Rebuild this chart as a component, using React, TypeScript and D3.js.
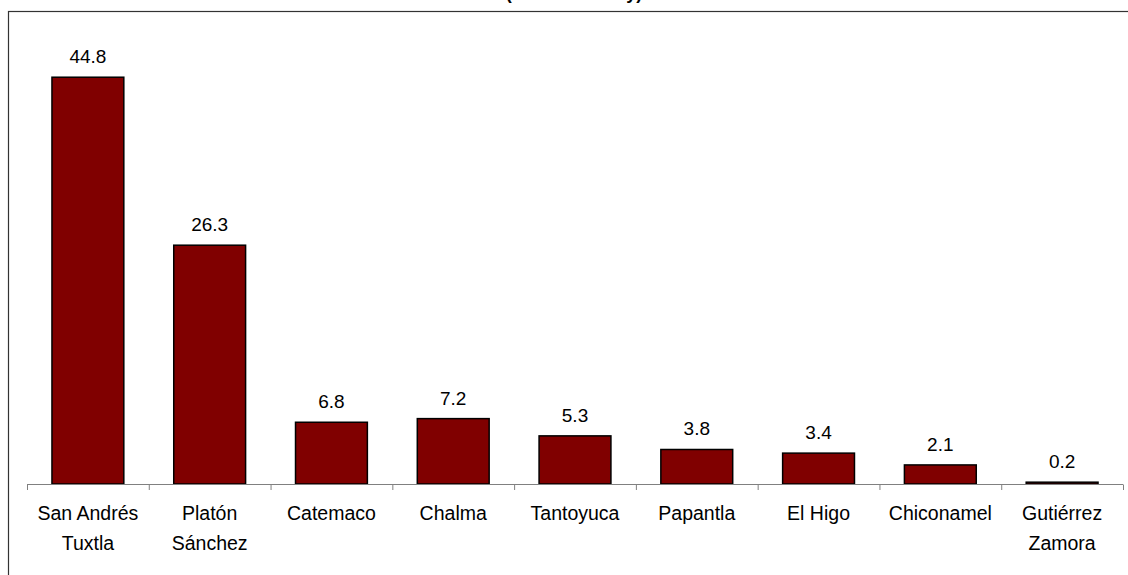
import React from "react";
import * as d3 from "d3";

const categories: string[][] = [
  ["San Andrés", "Tuxtla"],
  ["Platón", "Sánchez"],
  ["Catemaco"],
  ["Chalma"],
  ["Tantoyuca"],
  ["Papantla"],
  ["El Higo"],
  ["Chiconamel"],
  ["Gutiérrez", "Zamora"],
];
const values: number[] = [44.8, 26.3, 6.8, 7.2, 5.3, 3.8, 3.4, 2.1, 0.2];
const valueLabels: string[] = ["44.8", "26.3", "6.8", "7.2", "5.3", "3.8", "3.4", "2.1", "0.2"];
const titleText = "(Toneladas hoy)";

const W = 1128;
const H = 575;
const FONT = "'Liberation Sans', Arial, sans-serif";

export default function App() {
  const keys = categories.map((_, i) => String(i));
  const x = d3.scaleBand<string>().domain(keys).range([27, 1123]).paddingInner(0.41).paddingOuter(0.205);
  const y = d3.scaleLinear().domain([0, 50]).range([484, 30]);
  const step = x.step();
  const x0 = 27;
  const tickXs = d3.range(categories.length + 1).map((i) => x0 + i * step);

  return (
    <svg
      width={W}
      height={H}
      style={{ position: "absolute", left: 0, top: 0, background: "#fff" }}
      fontFamily={FONT}
    >
      <rect x={0} y={0} width={W} height={H} fill="#fff" />
      <text x={574} y={-1} textAnchor="middle" fontSize={18} fontWeight="bold" fill="#000">
        {titleText}
      </text>
      <rect x={8.5} y={11.5} width={W + 20} height={H + 20} fill="none" stroke="#333" strokeWidth={1.2} />
      {values.map((v, i) => {
        const bx = x(String(i))!;
        const bw = x.bandwidth();
        const top = y(v);
        return (
          <g key={i}>
            <rect
              x={bx}
              y={top}
              width={bw}
              height={Math.max(y(0) - top, 0.5)}
              fill="#800000"
              stroke="#000"
              strokeWidth={1.5}
            />
            <text x={bx + bw / 2} y={top - 14} textAnchor="middle" fontSize={19} fill="#000">
              {valueLabels[i]}
            </text>
          </g>
        );
      })}
      <line x1={x0} x2={tickXs[tickXs.length - 1]} y1={484.5} y2={484.5} stroke="#808080" strokeWidth={1} />
      {tickXs.map((tx, i) => (
        <line key={i} x1={tx + 0.5} x2={tx + 0.5} y1={484.5} y2={490} stroke="#808080" strokeWidth={1} />
      ))}
      {categories.map((lines, i) => {
        const cx = x(String(i))! + x.bandwidth() / 2;
        return (
          <text key={i} textAnchor="middle" fontSize={19.5} fill="#000">
            {lines.map((l, j) => (
              <tspan key={j} x={cx} y={520 + j * 30}>
                {l}
              </tspan>
            ))}
          </text>
        );
      })}
    </svg>
  );
}
